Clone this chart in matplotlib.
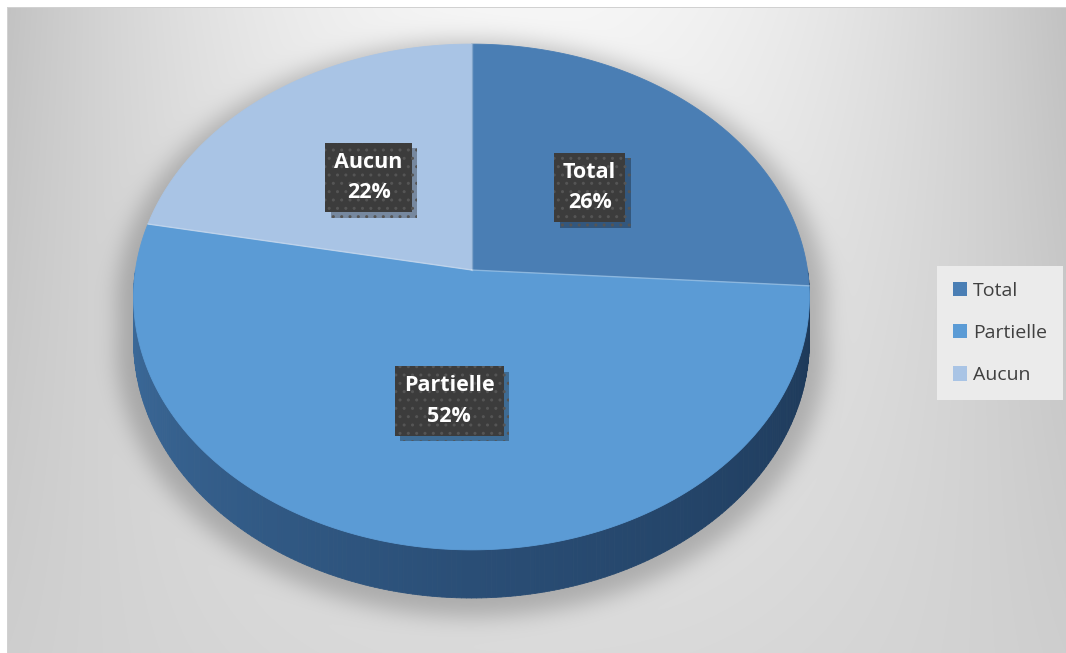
import numpy as np
import matplotlib
matplotlib.use('Agg')
import matplotlib.pyplot as plt
import matplotlib.patheffects as pe
from matplotlib.patches import Polygon, Patch
from matplotlib.collections import PolyCollection
from matplotlib.path import Path
from matplotlib.colors import LinearSegmentedColormap

plt.rcParams['font.family'] = ['Open Sans', 'DejaVu Sans']

# données du camembert
labels = ['Total', 'Partielle', 'Aucun']
values = [26, 52, 22]
top_colors = ['#4a7eb4', '#5b9bd5', '#a9c4e5']

W, H = 1066, 653

# géométrie du disque vu en perspective (en pixels)
cx, cy = 471.5, 270.0
rx, ry = 336.0, 250.0
persp = 0.1067
depth = 43.0


def project(theta, r=1.0, drop=0.0):
    x = r * np.cos(theta)
    v = r * np.sin(theta)
    den = 1 + persp * v
    return cx + rx * x / den, cy + (-ry * v + drop) / den


def ring(t0, t1, n=300, drop=0.0):
    t = np.linspace(t0, t1, n)
    sx, sy = project(t, drop=drop)
    return np.column_stack([sx, sy])


# angles des parts : départ en haut, sens horaire
frac = np.cumsum([0] + values) / sum(values)
starts = np.pi / 2 - 2 * np.pi * frac[:-1]
ends = np.pi / 2 - 2 * np.pi * frac[1:]

fig = plt.figure(figsize=(W / 100, H / 100), dpi=100)
ax = fig.add_axes([0, 0, 1, 1])
ax.set_xlim(0, W)
ax.set_ylim(H, 0)
ax.axis('off')

# fond dégradé gris
X, Y = np.meshgrid(np.arange(W) + 0.5, np.arange(H) + 0.5)
dxn = np.clip(np.abs(X - 536) / 530, 0, 1)
dyn = np.clip((Y - 7) / 646, 0, 1)
bg = (246 - 52 * dxn ** 2 - 28 * dyn + 40 * dxn ** 2 * dyn) / 255.0

# ombre portée sous le disque
top_path = Path(ring(0, 2 * np.pi))
bot_path = Path(ring(0, 2 * np.pi, drop=depth))
pts = np.column_stack([X.ravel(), Y.ravel()])
sx = cx + (pts[:, 0] - cx) / 1.05
sy = 330 + (pts[:, 1] - 8 - 330) / 1.04
spts = np.column_stack([sx, sy])
mask = (top_path.contains_points(spts) | bot_path.contains_points(spts)).reshape(H, W).astype(float)
sigma = 11
k = np.arange(-3 * sigma, 3 * sigma + 1)
kern = np.exp(-k ** 2 / (2 * sigma ** 2))
kern /= kern.sum()
blur = np.apply_along_axis(np.convolve, 1, mask, kern, mode='same')
blur = np.apply_along_axis(np.convolve, 0, blur, kern, mode='same')
bg = bg * (1 - 0.22 * blur)

img = np.dstack([bg, bg, bg])
img[:7, :, :] = 1.0
img[:, :7, :] = 1.0
img[7, 7:, :] = 0.82
img[7:, 7, :] = 0.82
ax.imshow(img, extent=(0, W, H, 0), interpolation='nearest', zorder=0)

# paroi latérale (moitié avant)
wall_cmap = LinearSegmentedColormap.from_list('wall', ['#3d6c9c', '#2a4e76', '#1c3756'])
n = 240
t = np.linspace(np.pi, 2 * np.pi, n + 1)
tx, ty = project(t)
bx, by = project(t, drop=depth)
quads = [[(tx[i], ty[i]), (tx[i + 1], ty[i + 1]), (bx[i + 1], by[i + 1]), (bx[i], by[i])]
         for i in range(n)]
wcols = wall_cmap(np.linspace(0, 1, n))
ax.add_collection(PolyCollection(quads, facecolors=wcols, edgecolors=wcols, linewidths=0.6, zorder=2))

# dessus du camembert
for s, e, c in zip(starts, ends, top_colors):
    arc = ring(s, e)
    poly = np.vstack([[cx, cy], arc])
    ax.add_patch(Polygon(poly, closed=True, fc=c, ec=c, lw=0.6, zorder=3))

# séparations entre les parts
for s in starts:
    ex, ey = project(s)
    ax.plot([cx, ex], [cy, ey], color='white', alpha=0.3, lw=1, zorder=4)

# étiquettes des parts (encadré sombre avec ombre)
box_fx = [pe.SimplePatchShadow(offset=(4, -4), shadow_rgbFace='black', alpha=0.3), pe.Normal()]
for s, e, lab, val in zip(starts, ends, labels, values):
    lx, ly = project((s + e) / 2, r=0.5)
    ax.text(lx, ly, f'{lab}\n{val}%', ha='center', va='center', fontsize=15.5,
            fontweight='bold', color='white', linespacing=1.6, zorder=6,
            bbox=dict(boxstyle='square,pad=0.42', fc='#3c3c3c', ec='#555555', lw=0,
                      hatch='..', path_effects=box_fx))

# légende
handles = [Patch(fc=c, ec='none') for c in top_colors]
fig.legend(handles, labels, loc='center left', bbox_to_anchor=(937 / W, 1 - 333 / H),
           borderaxespad=0, frameon=True, facecolor='#ebebeb', edgecolor='none',
           fancybox=False, framealpha=1, fontsize=14, handlelength=0.75, handleheight=0.75,
           handletextpad=0.3, labelspacing=1.25, borderpad=0.8, labelcolor='#404040')

fig.savefig('out.png', dpi=100)
